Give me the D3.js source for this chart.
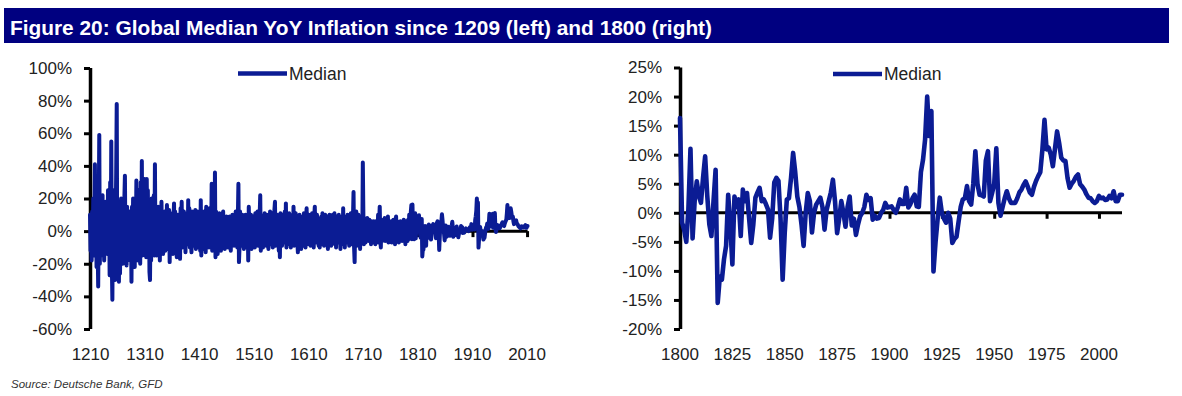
<!DOCTYPE html>
<html><head><meta charset="utf-8">
<script src="https://cdn.jsdelivr.net/npm/d3@7"></script>
<style>
html,body{margin:0;padding:0;background:#fff;}
svg{display:block;font-family:"Liberation Sans",Arial,sans-serif;}
</style></head>
<body>
<svg id="c" width="1182" height="396"></svg>
<script>
const titleText = "Figure 20: Global Median YoY Inflation since 1209 (left) and 1800 (right)";
const sourceText = "Source: Deutsche Bank, GFD";
const seriesName = "Median";

// Left chart: annual median inflation (%), 1209-1799
const leftStartYear = 1209;
const leftEarly = [10,
 -12,5,-18,12,-8,20,-15,8,41,-10,
 6,-22,15,-8,-34,12,59,-20,8,-15,
 10,-5,22,-12,6,-18,15,-9,18,-6,
 8,-14,25,-10,12,-27,30,-8,55,-20,
 -42,10,25,-15,18,-30,5,35,78,-25,
 12,-18,-31,15,-26,10,20,-15,8,-20,
 15,-10,20,34,-12,8,-21,15,-8,10,
 -15,8,12,-18,6,-31,15,-10,20,-14,
 10,-22,18,-8,31,-12,20,-18,25,-10,
 15,-20,30,-8,43,-15,22,-12,18,32,
 -10,20,-16,32,-8,25,-14,18,-25,-30,
 12,-18,20,-10,15,-12,22,-15,41,-10,
 8,-15,12,-8,15,-12,10,-18,14,-6,
 18,-10,11,-14,8,-5,12,-12,10,-8,
 16,-11,9,-7,13,-19,8,-12,10,-6,
 11,-14,7,17,-9,12,-5,9,-16,6,
 10,-12,8,-8,-17,14,-6,18,-10,7,
 -9,12,-5,10,-13,8,-6,11,-8,19,
 -7,14,-10,9,-6,-13,12,-7,8,-9,
 10,-6,13,-11,7,-8,12,-5,9,-10,
 6,-12,19,-15,10,-7,8,-11,12,-6,
 9,-13,15,-8,11,-6,7,-10,14,-9,
 10,-7,29,-12,15,-8,18,-10,36,-16,
 12,-8,9,-14,7,-6,11,-9,8,-12,
 6,-7,10,12,-9,5,-11,8,-6,9,
 -8,7,-10,6,-5,9,8,-12,5,-7,
 10,-6,8,-9,6,-5,12,-8,7,-10,
 9,29,-19,-10,12,-6,8,-9,10,-5,
 7,-11,6,-8,10,-7,5,-10,8,-18,
 15,-9,7,-6,10,-11,8,-5,9,-8,
 6,-10,11,-7,8,-6,12,-9,7,-5,
 10,22,-12,8,-7,9,-10,6,-8,11,
 -6,7,-9,10,-5,8,-11,6,-7,12,
 -8,9,-6,11,-10,7,-5,13,18,-9,
 8,-7,10,-6,9,-12,7,-16,11,-8,
 6,-9,10,-5,8,-7,12,-6,17,-10,
 7,-8,9,-6,11,-5,8,-10,6,-7,
 10,-6,15,-9,7,-8,11,-5,9,-6,
 -13,8,-7,10,-6,9,-11,7,-5,8,
 -9,11,-6,8,-10,7,14,-8,9,-6,
 10,-7,6,-9,8,-5,11,-8,7,-10,
 9,15,-6,8,-7,10,-5,6,-9,7,
 -10,8,-6,9,-8,11,-5,7,-9,6,
 10,-7,8,-6,9,-11,7,-5,10,-8,
 6,-9,8,-7,10,-6,7,11,-8,6,
 -10,9,-5,8,-7,10,-6,7,-11,8,
 -6,9,-7,14,-8,6,-10,8,-5,9,
 -7,10,-6,8,-9,7,-5,11,-8,6,
 -7,9,24,-10,-19,8,-6,12,-9,7,
 -8,10,-6,9,-11,7,-5,8,-7,42,
 10,-8,-5,6,-7,5,-6,8,-4,5,
 -6,7,-5,4,-8,6,-4,5,-7,6,
 -5,4,-8,6,-6,5,-4,10,-7,6,
 15,-5,-10,7,-6,4,-5,6,-4,8,
 -6,5,-4,7,-5,9,-7,6,-4,5,
 -5,6,-7,4,-5,7,-4,6,-8,5,
 9,-5,6,-4,5,-7,4,-5,6,-4,
 5,-6,4,-5,7,-4,5,-8,6,-5,
 4,-6,7,-5,10,-4,6,12,16,-5];

// Right chart: annual median inflation (%), 1800-2011
const rightStartYear = 1800;
const rightVals = [
 16.3,-1.7,-3,-5,0.6,11,-4.4,2,5.4,3,
 1.7,6,9.7,3,-2,-4,2,7.4,-15.5,-11,
 -11.5,-8,-5.7,3.1,-2,-8.9,2.8,1,2.3,-4,
 4,2,3.4,-1,-5.2,-2,2.6,3.5,4.3,2,
 2.3,1.5,0.6,-4.3,-1,5.2,6,5.5,-1,-11.5,
 -3.4,2.3,2.5,6,10.3,7,2.8,1,-2,-5.7,
 0,3.4,2,-3.4,0,1.4,2,2.6,1,-2.9,
 0.5,2,3.5,5.7,2,-3.5,-1,2,0,-2.4,
 1,2.8,-2.2,-1,-3.8,-2,-0.6,0,1,3.1,
 2.2,2.5,-1.2,-0.5,-1,-0.9,0,0.5,1.7,0.9,
 1,1.1,0.5,0,1,2.3,1.5,1.5,4.3,0.9,
 1.5,2.5,3.1,1.1,1,7,9.1,12.6,20,13.2,
 17.5,-10.1,-5,-1,2.6,0,-1,-1.7,0,-1,
 -5.2,-4.5,-4.1,-1.5,1,2.3,2.5,4.6,2,1.4,
 5,10.6,5,3.1,3,2.8,9,10.6,2,3.4,
 5,11.1,1.7,-0.5,1,2.5,3.7,2.5,1.7,1.7,
 1.7,2.5,3.5,4,4.8,5.4,4.5,3.5,3.1,4.5,
 5.5,6.3,7,10.9,16,10.9,11.2,10,8,11,
 14,12,9.5,9,8.9,6,4.3,5,5.5,6.2,
 6.6,4.9,4.5,4,3.2,2.6,2.5,2,1.7,2,
 2.9,2.5,2.6,2.2,2.3,2.9,2.5,3.7,2,2,
 3.1,3.1];

const leftYTicks = [-60,-40,-20,0,20,40,60,80,100];
const leftXTicks = [1210,1310,1410,1510,1610,1710,1810,1910,2010];
const rightYTicks = [-20,-15,-10,-5,0,5,10,15,20,25];
const rightXTicks = [1800,1825,1850,1875,1900,1925,1950,1975,2000];

const leftVals = leftEarly.concat(rightVals);
const leftData = leftVals.map((v,i)=>({year: leftStartYear+i, v}));
const rightData = rightVals.map((v,i)=>({year: rightStartYear+i, v}));

const LINE = "#0b1c94";
const svg = d3.select("#c");

// Title bar
svg.append("rect").attr("x",4).attr("y",8).attr("width",1165).attr("height",35).attr("fill","#000080");
svg.append("text").attr("x",10).attr("y",34.5).attr("fill","#fff")
  .attr("font-size",21).attr("font-weight","bold")
  .attr("textLength",702).attr("lengthAdjust","spacingAndGlyphs")
  .text(titleText);

// Source
svg.append("text").attr("x",11).attr("y",388).attr("fill","#333")
  .attr("font-size",11.5).attr("font-style","italic").text(sourceText);

function drawChart(cfg){
  const x = d3.scaleLinear().domain(cfg.xDomain).range(cfg.xRange);
  const y = d3.scaleLinear().domain(cfg.yDomain).range(cfg.yRange);
  const g = svg.append("g");

  // y axis
  const ya = g.append("g").attr("transform",`translate(${cfg.xRange[0]},0)`)
    .call(d3.axisLeft(y).tickValues(cfg.yTicks).tickSize(6).tickPadding(12).tickFormat(d=>d+"%"));
  ya.select(".domain").attr("stroke","#000").attr("stroke-width",3.5).attr("d",`M0.5,${cfg.yRange[1]}V${cfg.yRange[0]}`);
  ya.selectAll(".tick line").attr("stroke","#000").attr("stroke-width",3);
  ya.selectAll(".tick text").attr("font-size",17).attr("fill","#222")
    .attr("font-family","'Liberation Sans',Arial,sans-serif");

  // x axis at zero
  const xa = g.append("g").attr("transform",`translate(0,${y(0)})`)
    .call(d3.axisBottom(x).tickValues(cfg.xTicks).tickSize(6).tickFormat(""));
  xa.select(".domain").attr("stroke","#000").attr("stroke-width",3).attr("d",`M${cfg.xRange[0]},0H${cfg.xRange[1]}`);
  xa.selectAll(".tick line").attr("stroke","#000").attr("stroke-width",3);

  // x tick labels at bottom
  g.append("g").selectAll("text").data(cfg.xTicks).join("text")
    .attr("x",d=>x(d)).attr("y",360).attr("text-anchor","middle")
    .attr("font-size",17).attr("fill","#222").text(d=>d);

  // series
  const line = d3.line().x(d=>x(d.year)).y(d=>y(d.v));
  g.append("path").datum(cfg.data).attr("d",line).attr("fill","none")
    .attr("stroke",LINE).attr("stroke-width",cfg.sw).attr("stroke-linejoin","round").attr("stroke-linecap","round");

  // legend
  const lg = g.append("g");
  lg.append("line").attr("x1",cfg.legX).attr("x2",cfg.legX+49).attr("y1",cfg.legY).attr("y2",cfg.legY)
    .attr("stroke",LINE).attr("stroke-width",4.5);
  lg.append("text").attr("x",cfg.legX+51).attr("y",cfg.legY+6).attr("font-size",17.5).attr("fill","#222").text(seriesName);
}

drawChart({
  data: leftData, xDomain:[1209,2011], xRange:[90,527.6],
  yDomain:[-60,100], yRange:[329,68], yTicks:leftYTicks, xTicks:leftXTicks,
  legX:238, legY:73.5, sw:4
});
drawChart({
  data: rightData, xDomain:[1800,2011], xRange:[680,1122],
  yDomain:[-20,25], yRange:[329,67.5], yTicks:rightYTicks, xTicks:rightXTicks,
  legX:833, legY:74, sw:4.6
});
</script>
</body></html>
